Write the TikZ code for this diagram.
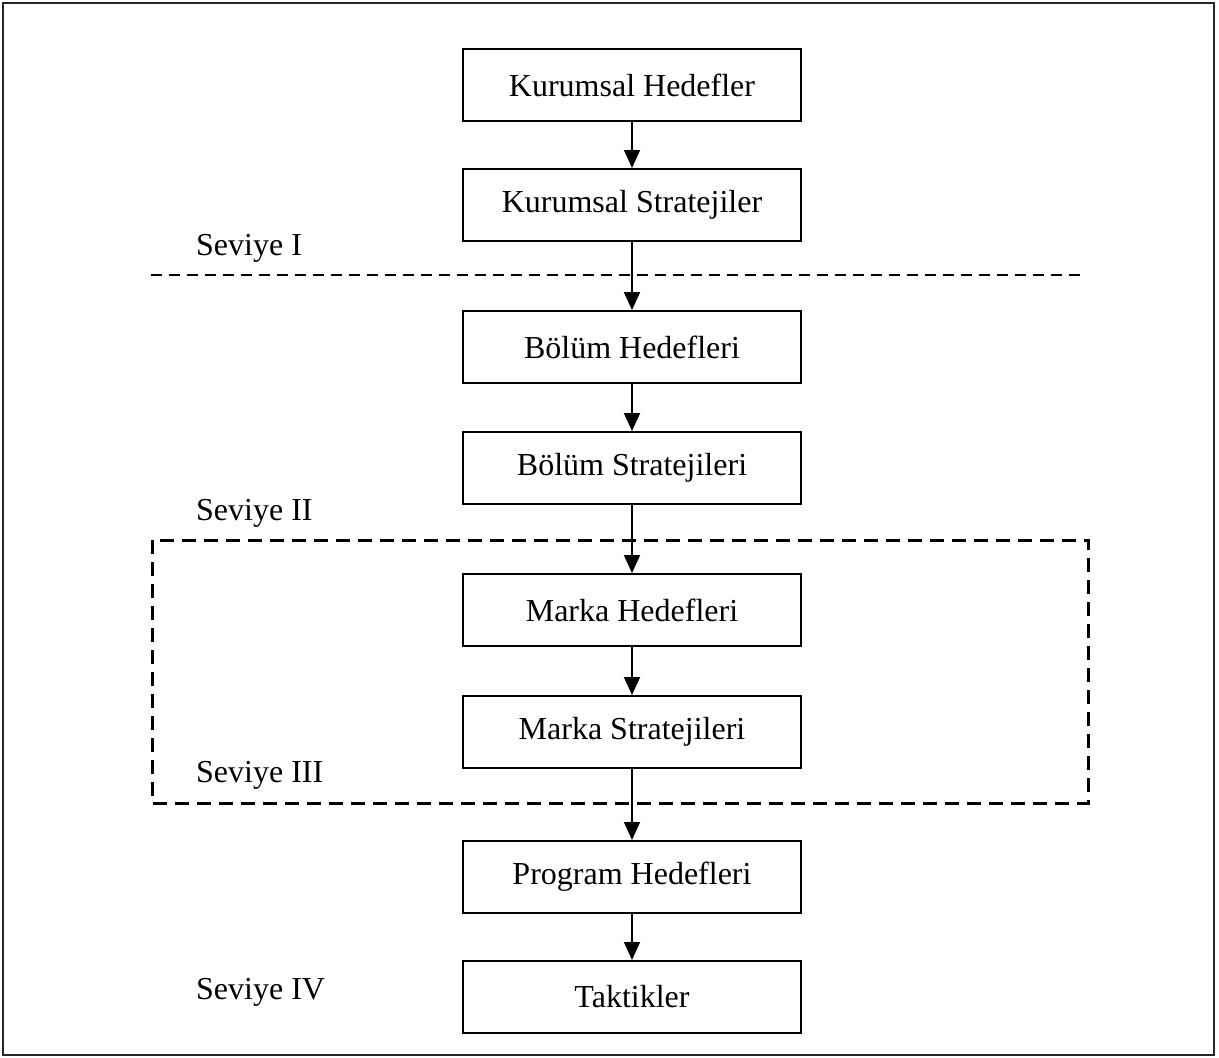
\documentclass[tikz,border=0pt]{standalone}
\usepackage{fontspec}
\setmainfont{Liberation Serif}
\usetikzlibrary{arrows.meta}
\begin{document}
\begin{tikzpicture}[x=1pt,y=-1pt,
  stage/.style={draw, line width=2pt, minimum width=338pt, minimum height=72pt,
    inner sep=0pt, font=\fontsize{32}{38}\selectfont},
  level/.style={anchor=west, inner sep=0pt, font=\fontsize{32}{38}\selectfont},
  flow/.style={line width=2pt, -{Triangle[width=16pt,length=18pt]}},
  divider/.style={line width=2.5pt, dash pattern=on 11pt off 7pt},
  zone/.style={line width=3pt, dash pattern=on 14pt off 8pt}]
\useasboundingbox (0,0) rectangle (1219,1058);
\draw[line width=2pt, black!85] (3,3) rectangle (1214,1055);

% hierarchy of goals and strategies
\node[stage] (kh) at (632,85)  {Kurumsal Hedefler};
\node[stage] (ks) at (632,205) {Kurumsal Stratejiler};
\node[stage] (bh) at (632,347) {Bölüm Hedefleri};
\node[stage] (bs) at (632,468) {Bölüm Stratejileri};
\node[stage] (mh) at (632,610) {Marka Hedefleri};
\node[stage] (ms) at (632,732) {Marka Stratejileri};
\node[stage] (ph) at (632,877) {Program Hedefleri};
\node[stage] (tk) at (632,997) {Taktikler};

% level separators
\draw[divider] (151,275) -- (1086,275);
\draw[zone] (152,540) rectangle (1088,803);

% level labels
\node[level] (l1) at (196,248) {Seviye I};
\node[level] (l2) at (196,513) {Seviye II};
\node[level] (l3) at (196,775) {Seviye III};
\node[level] (l4) at (196,992) {Seviye IV};

% connectors
\draw[flow] (kh) -- (ks);
\draw[flow] (ks) -- (bh);
\draw[flow] (bh) -- (bs);
\draw[flow] (bs) -- (mh);
\draw[flow] (mh) -- (ms);
\draw[flow] (ms) -- (ph);
\draw[flow] (ph) -- (tk);
\end{tikzpicture}
\end{document}
